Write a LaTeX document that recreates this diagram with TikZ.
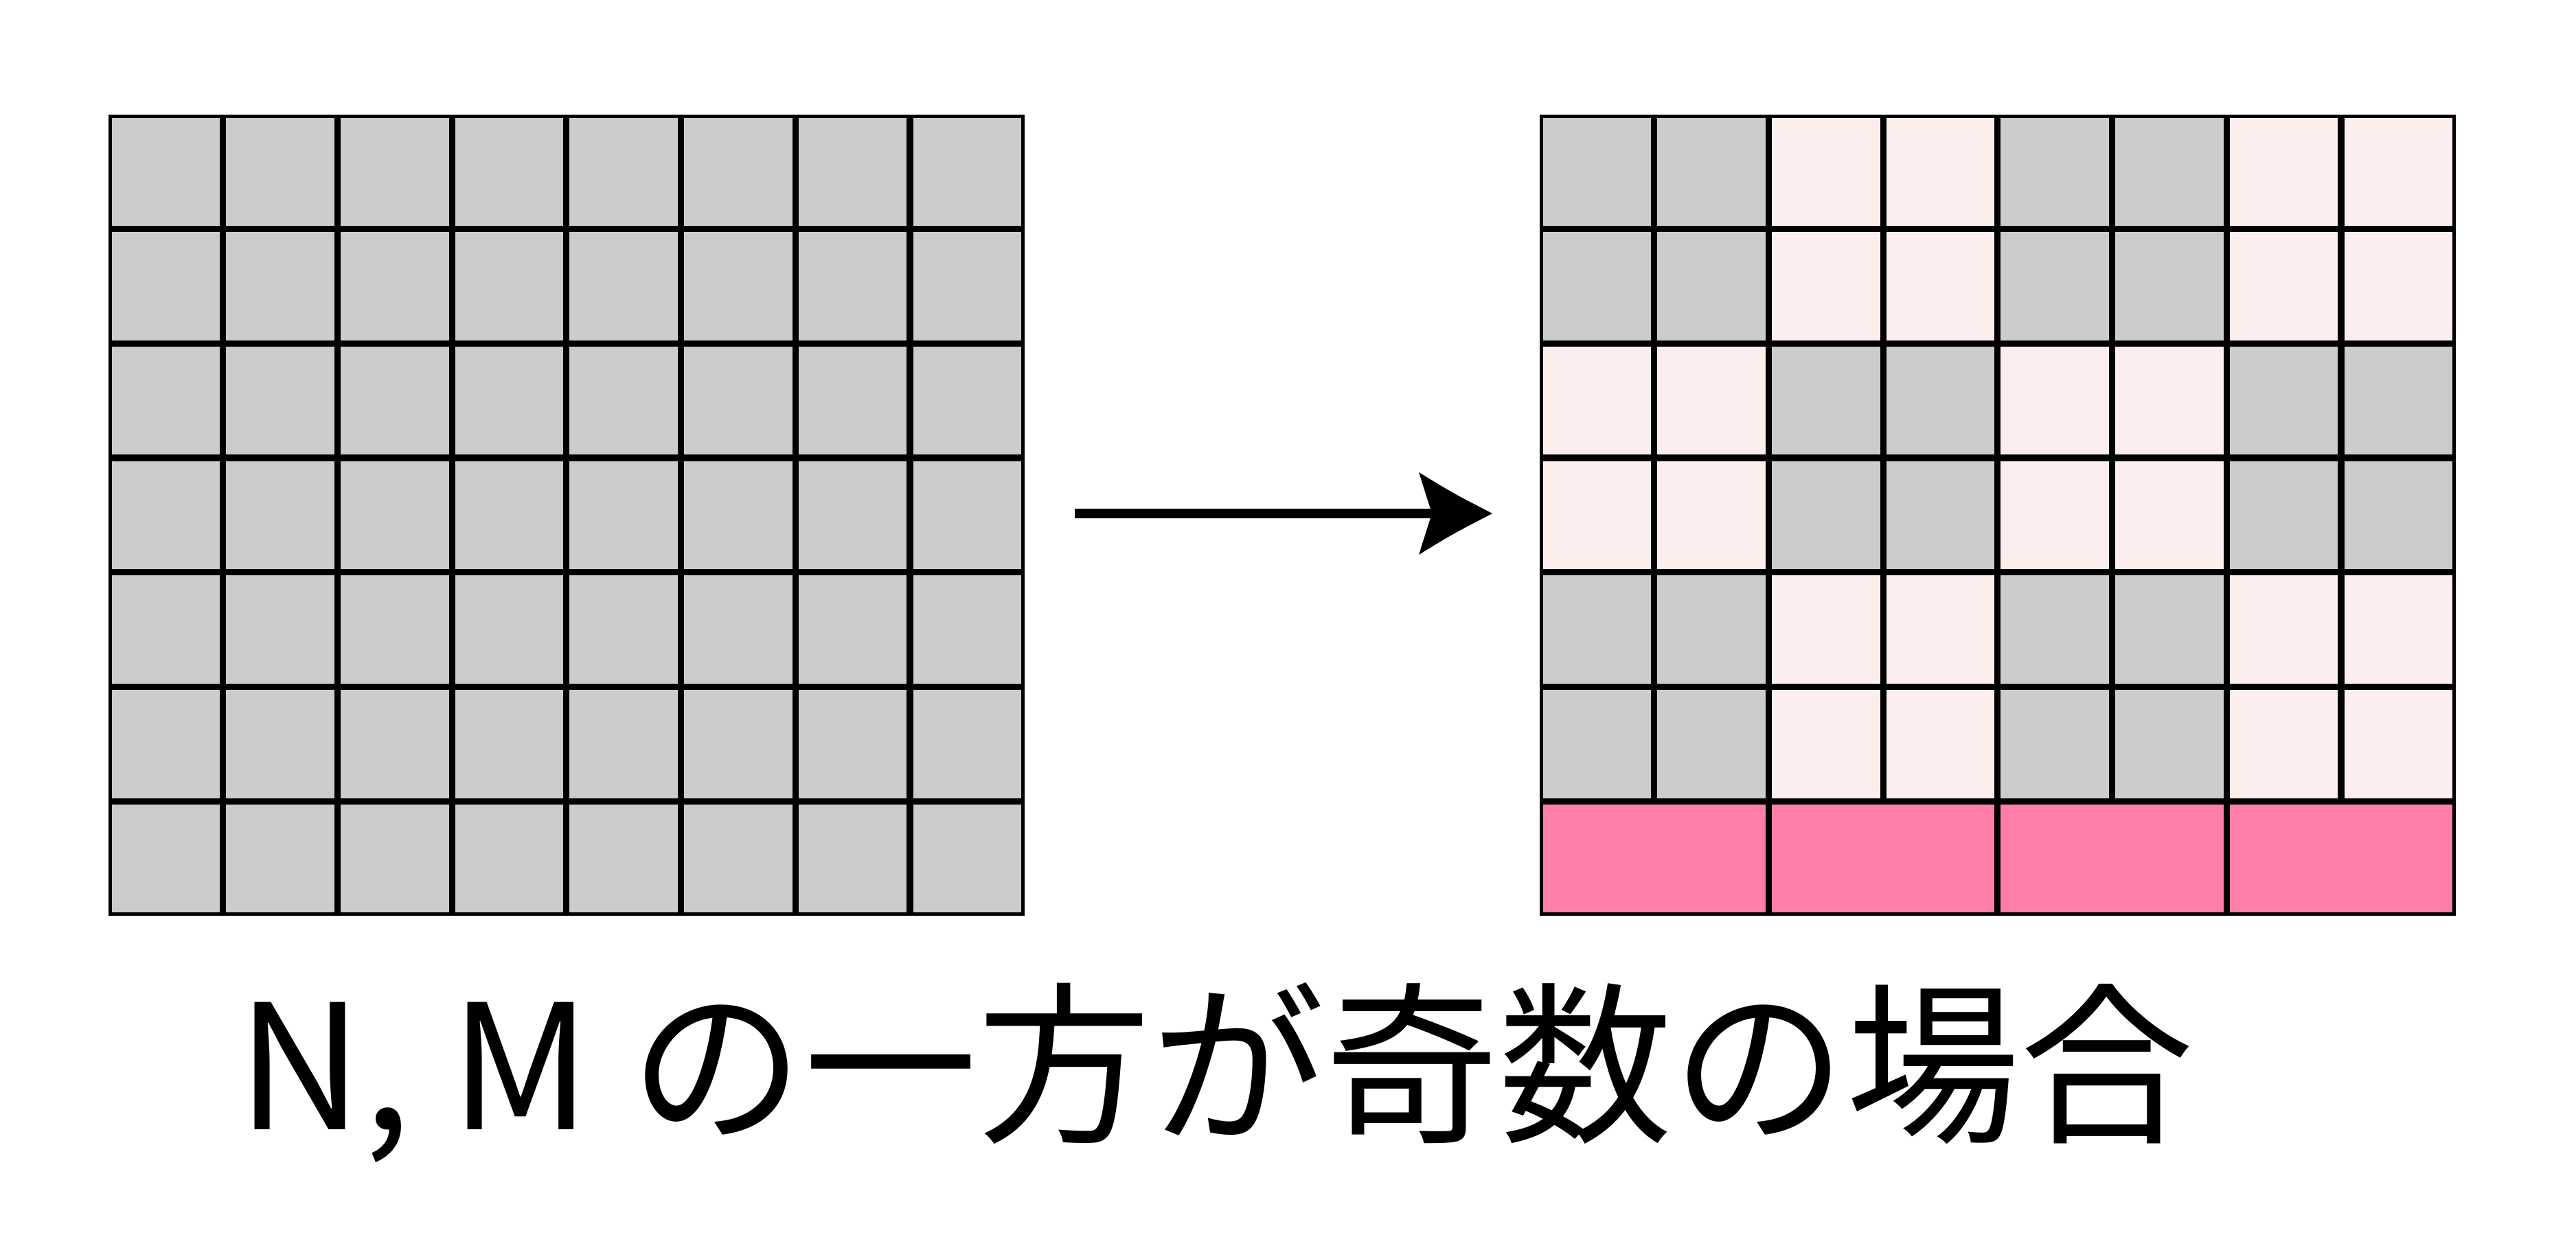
\documentclass[tikz,border=0pt]{standalone}
\usepackage{fontspec}
\setmainfont{Noto Sans CJK JP}
\definecolor{cgray}{HTML}{CCCCCC}
\definecolor{cpink}{HTML}{FDEEEE}
\definecolor{cmag}{HTML}{FF7DAB}
\begin{document}
\begin{tikzpicture}[
  cellbox/.style={draw=black, line width=0.046cm},
  caption/.style={font=\fontsize{72}{86}\selectfont, inner sep=0pt}
]
\def\cs{1.667}
\def\h{0.023}
\fill[white] (0,0) rectangle (37.51,-18.34);
\useasboundingbox (0,0) rectangle (37.51,-18.34);
% left grid: all grey
\foreach \i in {0,...,7}{
  \foreach \j in {0,...,6}{
    \draw[cellbox, fill=cgray] ({1.58+\i*\cs+\h},{-1.67-\j*\cs-\h}) rectangle ++({\cs-2*\h},{-\cs+2*\h});
  }
}
% right grid: 2x2 checker blocks
\foreach \i in {0,...,7}{
  \foreach \j in {0,...,5}{
    \pgfmathtruncatemacro\pp{mod(int(\i/2)+int(\j/2),2)}
    \ifnum\pp=0
      \draw[cellbox, fill=cgray] ({22.42+\i*\cs+\h},{-1.67-\j*\cs-\h}) rectangle ++({\cs-2*\h},{-\cs+2*\h});
    \else
      \draw[cellbox, fill=cpink] ({22.42+\i*\cs+\h},{-1.67-\j*\cs-\h}) rectangle ++({\cs-2*\h},{-\cs+2*\h});
    \fi
  }
}
\foreach \b in {0,...,3}{
  \draw[cellbox, fill=cmag] ({22.42+\b*2*\cs+\h},{-1.67-6*\cs-\h}) rectangle ++({2*\cs-2*\h},{-\cs+2*\h});
}
% arrow
\coordinate (astart) at (15.65,-7.48);
\coordinate (anotch) at (20.90,-7.48);
\coordinate (atip) at (21.73,-7.48);
\draw[line width=0.14cm] (astart) -- (anotch);
\fill (atip) .. controls (21.15,-7.18) .. (20.66,-6.88) -- (20.85,-7.48) -- (20.66,-8.08) .. controls (21.15,-7.78) .. (atip) -- cycle;
% caption
\node[caption] (cap) at (17.70,-15.62) {N, M の一方が奇数の場合};
\end{tikzpicture}
\end{document}
